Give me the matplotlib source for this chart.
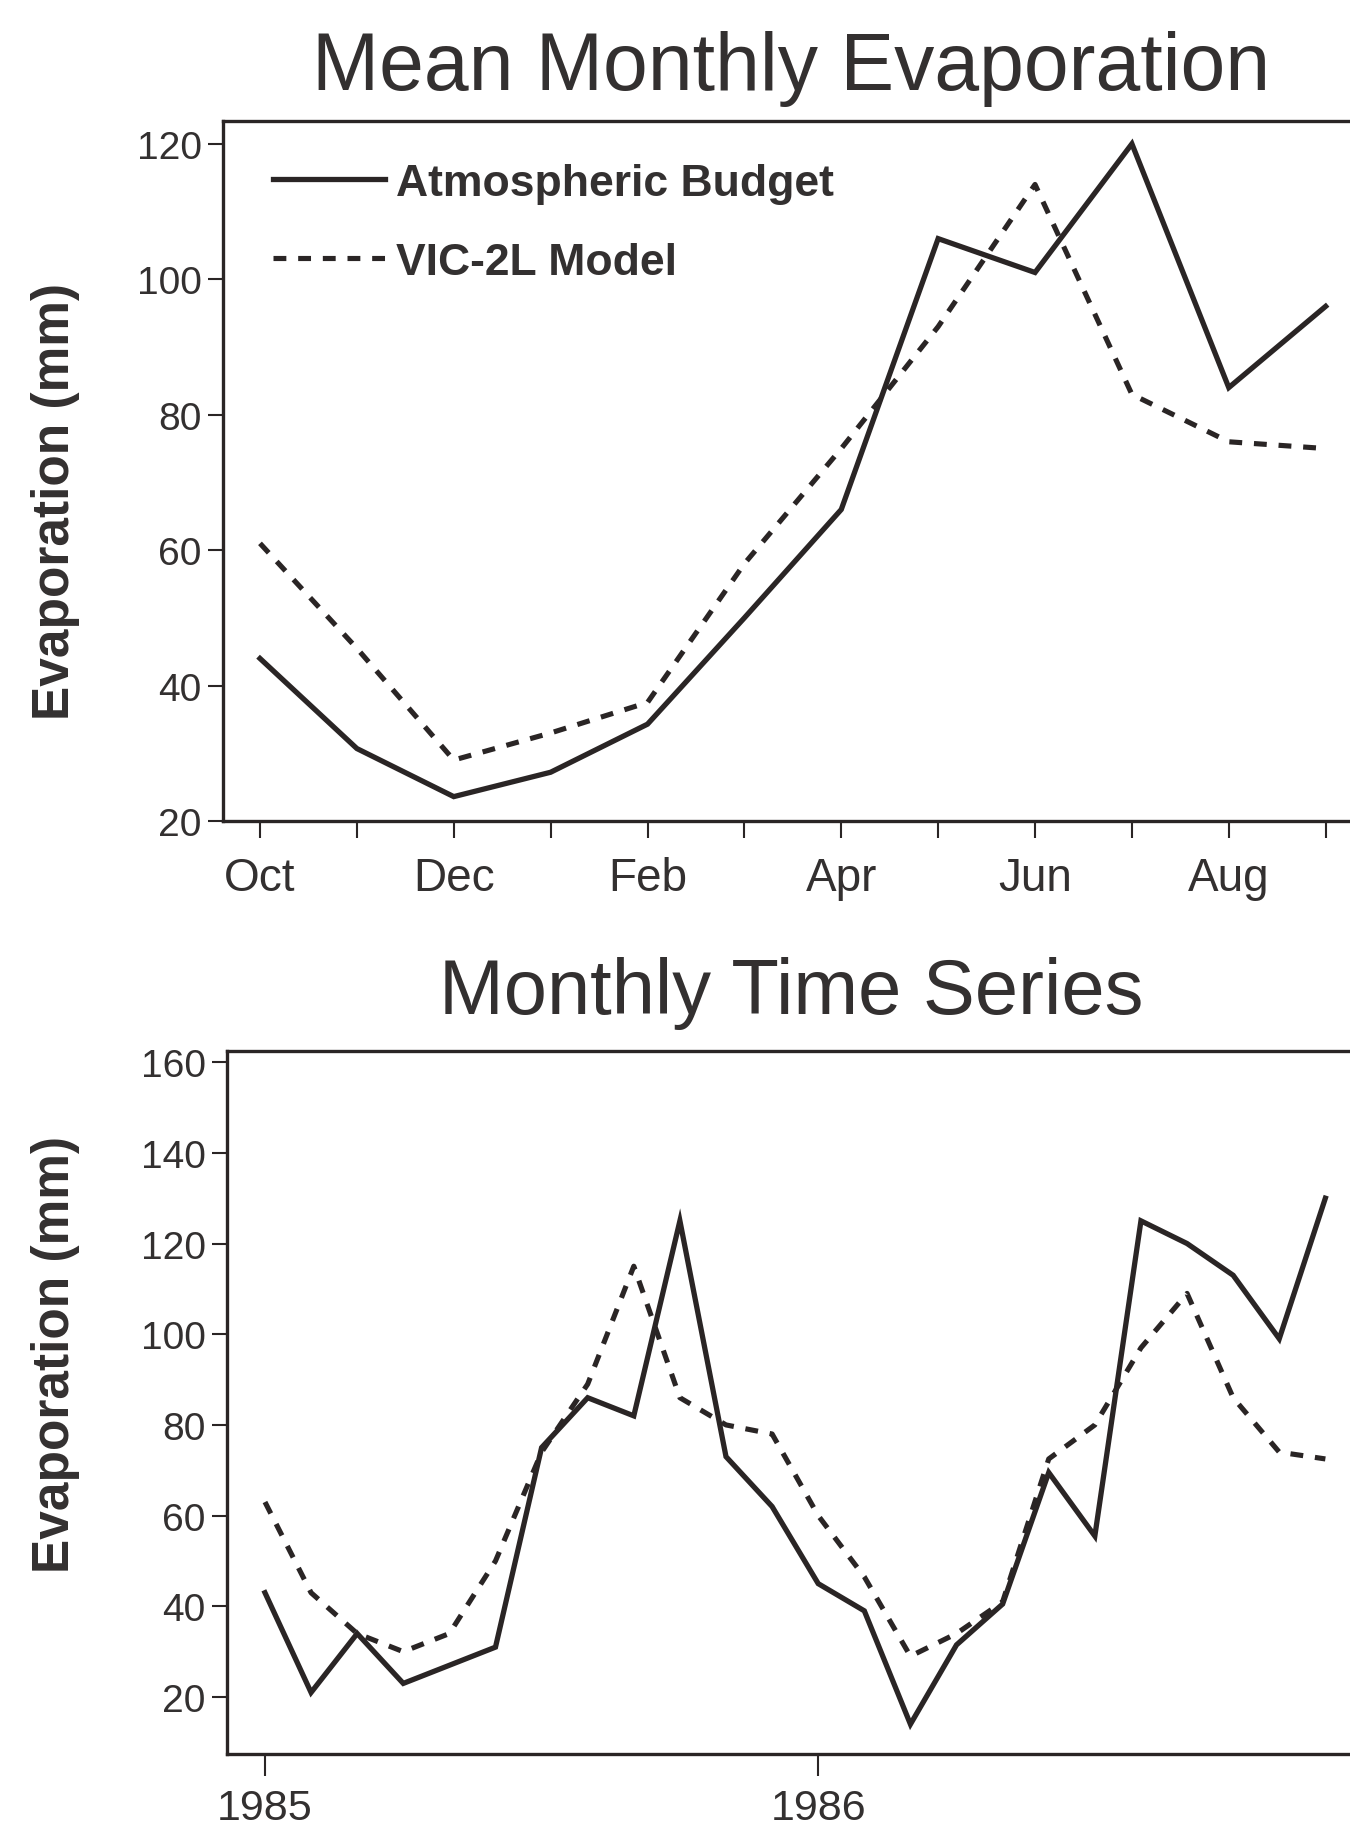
import numpy as np
import matplotlib.pyplot as plt

# mean monthly values (water year Oct - Sep)
months = ['Oct', 'Nov', 'Dec', 'Jan', 'Feb', 'Mar', 'Apr', 'May', 'Jun', 'Jul', 'Aug', 'Sep']
atm_mean = [44, 30.7, 23.6, 27.2, 34.3, 50, 66, 106, 101, 120, 84, 96]
vic_mean = [61, 45.5, 29, 33, 37.5, 58, 75, 93, 114, 83, 76, 75]

# monthly time series, starting 1985
atm_ts = [43, 21, 34, 23, 27, 31, 75, 86, 82, 125, 73, 62,
          45, 39, 14, 31.5, 40.5, 69.5, 55.5, 125, 120, 113, 99, 130]
vic_ts = [63, 43, 34, 30, 34, 50, 74, 89, 115, 86, 80, 78,
          60, 46.5, 29, 34, 41, 72.5, 80, 97, 109, 86, 74, 72.5]
years = ['1985', '1986']

ink = '#2a2525'
txt = '#333030'
sans = ['Liberation Sans', 'DejaVu Sans']
dash = (0, (2.5, 2.3))

fig = plt.figure(figsize=(13.5, 18.31), dpi=100)
W, H = 1350.0, 1831.0

def place(left, top, right, bottom):
    return [left / W, 1 - bottom / H, (right - left) / W, (bottom - top) / H]

def style(ax):
    for s in ['left', 'bottom', 'top', 'right']:
        ax.spines[s].set_linewidth(2.4)
        ax.spines[s].set_color(ink)
    ax.tick_params(axis='both', direction='out', width=1.5, color=ink, labelcolor=txt)
    ax.tick_params(axis='y', length=11, pad=4)

# ---- top panel ----
ax1 = fig.add_axes(place(222.7, 121.8, 1377, 822))
x = np.arange(len(months))
ax1.plot(x, atm_mean, color=ink, lw=3.8, solid_joinstyle='miter', label='Atmospheric Budget')
ax1.plot(x, vic_mean, color=ink, lw=3.7, ls=dash, label='VIC-2L Model')
ax1.set_xlim(-0.385, 11.53)
ax1.set_ylim(20, 123.4)
ax1.set_yticks([20, 40, 60, 80, 100, 120])
ax1.set_xticks(x)
ax1.set_xticklabels([m if i % 2 == 0 else '' for i, m in enumerate(months)])
style(ax1)
ax1.tick_params(axis='x', length=12, pad=13)
for t in ax1.get_yticklabels():
    t.set_fontsize(28)
    t.set_family(sans)
for t in ax1.get_xticklabels():
    t.set_fontsize(33)
    t.set_family(sans)

leg = ax1.legend(loc='upper left', bbox_to_anchor=(0.044, 0.94), frameon=False,
                 borderpad=0, borderaxespad=0, handlelength=2.5, handletextpad=0.25,
                 labelspacing=0.85, prop={'family': sans, 'size': 32, 'weight': 'bold'})
for t in leg.get_texts():
    t.set_color(txt)

fig.text(0.586, 1 - 90 / H, 'Mean Monthly Evaporation', ha='center', va='baseline',
         fontsize=58, family=sans, color=txt)
fig.text(0.041, 0.726, 'Evaporation (mm)', rotation=90, ha='center', va='center',
         fontsize=37, fontweight='bold', family=sans, color=txt)

# ---- bottom panel ----
ax2 = fig.add_axes(place(226.7, 1051.8, 1377, 1754.7))
t_idx = np.arange(len(atm_ts))
ax2.plot(t_idx, atm_ts, color=ink, lw=3.8, solid_joinstyle='miter')
ax2.plot(t_idx, vic_ts, color=ink, lw=3.7, ls=dash)
ax2.set_xlim(-0.83, 24.12)
ax2.set_ylim(7.5, 162.5)
ax2.set_yticks(np.arange(20, 161, 20))
ax2.set_xticks([0, 12])
ax2.set_xticklabels(years)
style(ax2)
ax2.tick_params(axis='x', length=16, pad=9)
for t in ax2.get_yticklabels():
    t.set_fontsize(28)
    t.set_family(sans)
for t in ax2.get_xticklabels():
    t.set_fontsize(31)
    t.set_family(sans)

fig.text(0.586, 1 - 1014 / H, 'Monthly Time Series', ha='center', va='baseline',
         fontsize=56, family=sans, color=txt)
fig.text(0.041, 0.26, 'Evaporation (mm)', rotation=90, ha='center', va='center',
         fontsize=37, fontweight='bold', family=sans, color=txt)

fig.savefig('out.png', dpi=100, facecolor='white')
